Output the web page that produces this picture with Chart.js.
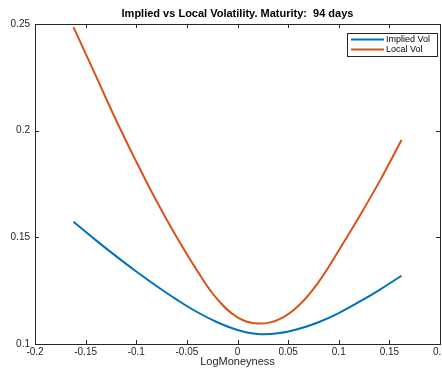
<!DOCTYPE html>
<html>
<head>
<meta charset="utf-8">
<script src="https://cdn.jsdelivr.net/npm/chart.js@4/dist/chart.umd.min.js"></script>
<style>
  html, body { margin: 0; padding: 0; background: #fff; }
  #wrap { width: 442px; height: 369px; }
</style>
</head>
<body>
<div id="wrap"><canvas id="volChart" width="442" height="369"></canvas></div>
<script>
// log-moneyness grid
const logMoneyness = [-0.162, -0.14, -0.12, -0.10, -0.08, -0.06, -0.04, -0.02, 0.0, 0.02, 0.04, 0.06, 0.08, 0.10, 0.12, 0.14, 0.162];
const impliedVol = [0.1573, 0.1487, 0.1412, 0.1340, 0.1272, 0.1208, 0.1150, 0.1102, 0.1066, 0.1047, 0.1050, 0.1070, 0.1102, 0.1145, 0.1197, 0.1253, 0.1320];
const localVol = [0.2485, 0.2258, 0.2050, 0.1855, 0.1670, 0.1500, 0.1345, 0.1210, 0.1125, 0.1096, 0.1113, 0.1178, 0.1290, 0.1438, 0.1595, 0.1760, 0.1956];

const xTicks = [-0.2, -0.15, -0.1, -0.05, 0, 0.05, 0.1, 0.15, 0.2];
const yTicks = [0.1, 0.15, 0.2, 0.25];

const titleText = "Implied vs Local Volatility. Maturity:  94 days";
const xLabel = "LogMoneyness";

const axisColor = "#262626";
const fontFam = "'Liberation Sans', Arial, Helvetica, sans-serif";

function pts(xs, ys) {
  return xs.map((x, i) => ({ x: x, y: ys[i] }));
}

function fmt(v) {
  return String(Number(v.toFixed(2)));
}

// box, inward ticks, title and legend in the MATLAB look
const matlabAxes = {
  id: "matlabAxes",
  afterDraw(chart) {
    const ctx = chart.ctx;
    const a = chart.chartArea;
    const xs = chart.scales.x;
    const ys = chart.scales.y;
    ctx.save();
    ctx.strokeStyle = axisColor;
    ctx.lineWidth = 1;
    ctx.strokeRect(Math.round(a.left) + 0.5, Math.round(a.top) + 0.5,
      Math.round(a.right - a.left), Math.round(a.bottom - a.top));

    const tl = 4;
    ctx.beginPath();
    xTicks.forEach((t) => {
      const px = Math.round(xs.getPixelForValue(t)) + 0.5;
      ctx.moveTo(px, a.bottom); ctx.lineTo(px, a.bottom - tl);
      ctx.moveTo(px, a.top); ctx.lineTo(px, a.top + tl);
    });
    yTicks.forEach((t) => {
      const py = Math.round(ys.getPixelForValue(t)) + 0.5;
      ctx.moveTo(a.left, py); ctx.lineTo(a.left + tl, py);
      ctx.moveTo(a.right, py); ctx.lineTo(a.right - tl, py);
    });
    ctx.stroke();

    // title
    ctx.fillStyle = "#000";
    ctx.font = "bold 11px " + fontFam;
    ctx.textAlign = "center";
    ctx.textBaseline = "middle";
    ctx.fillText(titleText, (a.left + a.right) / 2, 14);

    // legend
    const lx = 347, ly = 33, lw = 90, lh = 23;
    ctx.fillStyle = "#fff";
    ctx.fillRect(lx, ly, lw, lh);
    ctx.strokeStyle = "#262626";
    ctx.strokeRect(lx + 0.5, ly + 0.5, lw, lh);
    ctx.font = "9px " + fontFam;
    ctx.textAlign = "left";
    chart.data.datasets.forEach((ds, i) => {
      const yy = ly + 6.5 + i * 10;
      ctx.strokeStyle = ds.borderColor;
      ctx.lineWidth = 2;
      ctx.beginPath();
      ctx.moveTo(lx + 4, yy);
      ctx.lineTo(lx + 37, yy);
      ctx.stroke();
      ctx.fillStyle = "#000";
      ctx.fillText(ds.label, lx + 39, yy);
    });
    ctx.restore();
  }
};

const ctx = document.getElementById("volChart").getContext("2d");
new Chart(ctx, {
  type: "line",
  data: {
    datasets: [
      {
        label: "Implied Vol",
        data: pts(logMoneyness, impliedVol),
        borderColor: "#0072BD",
        borderWidth: 2,
        pointRadius: 0,
        tension: 0.4,
        fill: false
      },
      {
        label: "Local Vol",
        data: pts(logMoneyness, localVol),
        borderColor: "#D95319",
        borderWidth: 2,
        pointRadius: 0,
        tension: 0.4,
        fill: false
      }
    ]
  },
  options: {
    responsive: false,
    animation: false,
    layout: { padding: { top: 24, right: 2, left: 0, bottom: 0 } },
    plugins: {
      legend: { display: false },
      tooltip: { enabled: false },
      title: { display: false }
    },
    scales: {
      x: {
        type: "linear",
        min: -0.2,
        max: 0.2,
        afterBuildTicks: (s) => { s.ticks = xTicks.map((v) => ({ value: v })); },
        afterFit: (s) => { s.height = 25; s.paddingLeft = 0; s.paddingRight = 0; },
        grid: { display: false, drawTicks: false },
        border: { display: false },
        ticks: {
          color: axisColor,
          font: { family: fontFam, size: 10 },
          padding: 2,
          maxRotation: 0,
          autoSkip: false,
          callback: (v) => fmt(v)
        },
        title: {
          display: true,
          text: xLabel,
          color: axisColor,
          font: { family: fontFam, size: 11 },
          padding: { top: 0, bottom: 0 }
        }
      },
      y: {
        min: 0.1,
        max: 0.25,
        afterBuildTicks: (s) => { s.ticks = yTicks.map((v) => ({ value: v })); },
        afterFit: (s) => { s.width = 35; s.paddingTop = 0; s.paddingBottom = 0; },
        grid: { display: false, drawTicks: false },
        border: { display: false },
        ticks: {
          color: axisColor,
          font: { family: fontFam, size: 10 },
          padding: 5,
          callback: (v) => fmt(v)
        }
      }
    }
  },
  plugins: [matlabAxes]
});
</script>
</body>
</html>
